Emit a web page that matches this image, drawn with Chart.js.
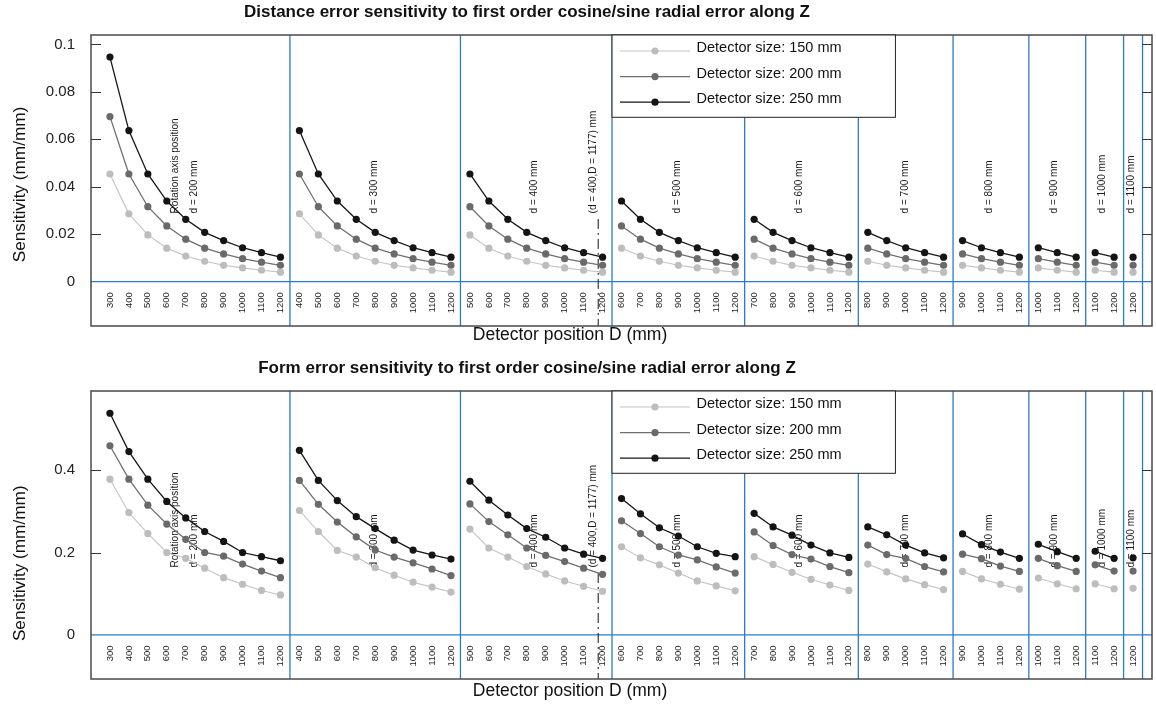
<!DOCTYPE html>
<html>
<head>
<meta charset="utf-8">
<title>Sensitivity to first order cosine/sine radial error along Z</title>
<script src="https://cdn.jsdelivr.net/npm/chart.js@4.4.1/dist/chart.umd.min.js"></script>
<style>
  body { margin: 0; background: #fff; }
  canvas { display: block; }
</style>
</head>
<body>
<canvas id="distChart" width="1156" height="352"></canvas>
<canvas id="formChart" width="1156" height="352"></canvas>
<script>
// rotation axis position d (mm) and detector position D (mm)
const rotationAxis = [200, 300, 400, 500, 600, 700, 800, 900, 1000, 1100];
const detectorPos = [300, 400, 500, 600, 700, 800, 900, 1000, 1100, 1200];
const detectorSizes = [150, 200, 250];
const limitD = 1177; // largest usable D for d = 400

// distance error sensitivity (mm/mm), only depends on D (300..1200)
const dist150 = [0.0454, 0.0286, 0.0197, 0.0141, 0.0108, 0.0086, 0.0069, 0.0058, 0.0048, 0.0040];
const dist200 = [0.0696, 0.0454, 0.0316, 0.0235, 0.0179, 0.0141, 0.0117, 0.0097, 0.0082, 0.0069];
const dist250 = [0.0947, 0.0637, 0.0454, 0.0340, 0.0263, 0.0208, 0.0173, 0.0143, 0.0122, 0.0103];

// form error sensitivity (mm/mm), one row per d, D > d
const form150 = [
  [0.378, 0.297, 0.246, 0.200, 0.186, 0.162, 0.139, 0.123, 0.108, 0.097],
  [0.302, 0.251, 0.205, 0.189, 0.163, 0.145, 0.128, 0.116, 0.104],
  [0.257, 0.211, 0.189, 0.166, 0.148, 0.131, 0.118, 0.106],
  [0.214, 0.187, 0.170, 0.150, 0.131, 0.119, 0.107],
  [0.190, 0.171, 0.152, 0.135, 0.121, 0.108],
  [0.172, 0.153, 0.136, 0.122, 0.110],
  [0.154, 0.136, 0.123, 0.111],
  [0.138, 0.124, 0.112],
  [0.124, 0.112],
  [0.113]
];
const form200 = [
  [0.459, 0.378, 0.315, 0.269, 0.232, 0.200, 0.191, 0.172, 0.155, 0.139],
  [0.375, 0.317, 0.274, 0.238, 0.206, 0.189, 0.175, 0.160, 0.144],
  [0.318, 0.275, 0.243, 0.211, 0.193, 0.178, 0.162, 0.147],
  [0.277, 0.246, 0.214, 0.194, 0.182, 0.165, 0.150],
  [0.250, 0.217, 0.195, 0.184, 0.166, 0.151],
  [0.218, 0.195, 0.186, 0.166, 0.153],
  [0.196, 0.185, 0.167, 0.154],
  [0.186, 0.168, 0.154],
  [0.170, 0.155],
  [0.155]
];
const form250 = [
  [0.538, 0.445, 0.378, 0.324, 0.284, 0.251, 0.227, 0.200, 0.190, 0.180],
  [0.448, 0.375, 0.326, 0.287, 0.258, 0.230, 0.206, 0.194, 0.184],
  [0.373, 0.327, 0.291, 0.258, 0.237, 0.211, 0.196, 0.186],
  [0.331, 0.294, 0.260, 0.240, 0.214, 0.198, 0.190],
  [0.295, 0.262, 0.242, 0.218, 0.199, 0.188],
  [0.262, 0.243, 0.218, 0.199, 0.187],
  [0.245, 0.219, 0.201, 0.186],
  [0.220, 0.202, 0.186],
  [0.203, 0.186],
  [0.187]
];

const yTicksDist = [0, 0.02, 0.04, 0.06, 0.08, 0.1];
const yTicksForm = [0, 0.2, 0.4];

const FONT = '"Liberation Sans", Arial, Helvetica, sans-serif';
const BLUE = '#2a7cc4';
const lineColors = ['#c4c4c4', '#6f6f6f', '#161616'];
const markColors = ['#bdbdbd', '#6a6a6a', '#141414'];

Chart.defaults.font.family = FONT;

// one group of detector positions per d
const groups = rotationAxis.map(d => detectorPos.filter(D => D > d));
const xLabels = groups.flat();
const groupStart = [];
let count = 0;
groups.forEach(g => { groupStart.push(count); count += g.length; });
const boundaries = groups.map((g, i) => groupStart[i] + g.length - 0.5);

// vertical labels inside the plot, x in category units
const notes = [
  { text: 'Rotation axis position', x: 3.44 },
  { text: 'd = 200 mm', x: 4.45 },
  { text: 'd = 300 mm', x: 13.94 },
  { text: 'd = 400 mm', x: 22.42 },
  { text: '(d = 400,D = ' + limitD + ') mm', x: 25.5 },
  { text: 'd = 500 mm', x: 29.94 },
  { text: 'd = 600 mm', x: 36.36 },
  { text: 'd = 700 mm', x: 41.98 },
  { text: 'd = 800 mm', x: 46.41 },
  { text: 'd = 900 mm', x: 49.84 },
  { text: 'd = 1000 mm', x: 52.4 },
  { text: 'd = 1100 mm', x: 53.9 }
];
const limitX = groupStart[2] + (limitD - groups[2][0]) / 100;

function seriesPoints(rows) {
  const pts = [];
  rows.forEach((vals, g) => {
    vals.forEach((v, k) => pts.push({ x: groupStart[g] + k, y: v }));
    pts.push({ x: groupStart[g] + vals.length - 0.5, y: null }); // break the line between groups
  });
  return pts;
}

function makeDatasets(rowsBySize) {
  return rowsBySize.map((rows, i) => ({
    label: 'Detector size: ' + detectorSizes[i] + ' mm',
    data: seriesPoints(rows),
    borderColor: lineColors[i],
    backgroundColor: markColors[i],
    pointBackgroundColor: markColors[i],
    pointBorderWidth: 0,
    pointRadius: 3.6,
    borderWidth: i === 0 ? 1.1 : 1.3,
    tension: 0
  }));
}

function drawLine(ctx, x1, y1, x2, y2) {
  ctx.beginPath();
  ctx.moveTo(x1, y1);
  ctx.lineTo(x2, y2);
  ctx.stroke();
}

const decor = {
  id: 'decor',
  beforeDatasetsDraw(chart) {
    const { ctx, chartArea: a, scales: { x, y } } = chart;
    const h = a.bottom - a.top;
    ctx.save();
    ctx.strokeStyle = BLUE;
    ctx.lineWidth = 1.3;
    boundaries.forEach(b => {
      const px = x.getPixelForValue(b);
      drawLine(ctx, px, a.top, px, a.bottom);
    });
    ctx.lineWidth = 1.2;
    const y0 = y.getPixelForValue(0);
    drawLine(ctx, a.left, y0, a.right, y0);

    ctx.fillStyle = '#1a1a1a';
    ctx.font = '10px ' + FONT;
    ctx.textAlign = 'left';
    ctx.textBaseline = 'middle';
    const ny = a.top + 0.613 * h;
    notes.forEach(n => {
      ctx.save();
      ctx.translate(x.getPixelForValue(n.x), ny);
      ctx.rotate(-Math.PI / 2);
      ctx.fillText(n.text, 0, 0);
      ctx.restore();
    });

    // dash-dot marker at D = 1177
    ctx.strokeStyle = '#111';
    ctx.lineWidth = 1;
    ctx.setLineDash([10, 4, 2, 4]);
    const lx = x.getPixelForValue(limitX);
    drawLine(ctx, lx, a.top + 0.632 * h, lx, a.bottom);
    ctx.restore();
  },
  afterDatasetsDraw(chart, args, opts) {
    const { ctx, chartArea: a, scales: { x, y } } = chart;
    ctx.save();
    // inward y ticks on both sides
    ctx.strokeStyle = '#333';
    ctx.lineWidth = 1;
    opts.yTicks.forEach(v => {
      if (v === 0) return;
      const py = Math.round(y.getPixelForValue(v)) + 0.5;
      drawLine(ctx, a.left, py, a.left + 10, py);
      drawLine(ctx, a.right - 10, py, a.right, py);
    });
    ctx.strokeStyle = '#4a4a4a';
    ctx.lineWidth = 1.5;
    ctx.strokeRect(a.left, a.top, a.right - a.left, a.bottom - a.top);

    // legend box
    const left = x.getPixelForValue(boundaries[2]);
    const w = 283.4, lh = 82.3;
    ctx.fillStyle = '#fff';
    ctx.fillRect(left, a.top, w, lh);
    ctx.strokeStyle = '#222';
    ctx.lineWidth = 1;
    ctx.strokeRect(left, a.top, w, lh);
    chart.data.datasets.forEach((ds, i) => {
      const ly = a.top + 16 + i * 25.6;
      ctx.strokeStyle = ds.borderColor;
      ctx.lineWidth = ds.borderWidth;
      drawLine(ctx, left + 8, ly, left + 78, ly);
      ctx.fillStyle = ds.pointBackgroundColor;
      ctx.beginPath();
      ctx.arc(left + 43, ly, 3.6, 0, Math.PI * 2);
      ctx.fill();
      ctx.fillStyle = '#111';
      ctx.font = '14.5px ' + FONT;
      ctx.textAlign = 'left';
      ctx.textBaseline = 'alphabetic';
      ctx.fillText(ds.label, left + 84.5, ly + 1);
    });
    ctx.restore();
  },
  afterDraw(chart, args, opts) {
    const { ctx } = chart;
    ctx.save();
    ctx.fillStyle = '#111';
    ctx.textAlign = 'center';
    ctx.textBaseline = 'alphabetic';
    ctx.font = 'bold 17px ' + FONT;
    ctx.fillText(opts.title, 527, opts.titleY);
    ctx.font = '17.5px ' + FONT;
    ctx.fillText('Detector position D (mm)', 570, opts.xTitleY);
    ctx.translate(25, opts.yTitleY);
    ctx.rotate(-Math.PI / 2);
    ctx.font = '17.2px ' + FONT;
    ctx.fillText('Sensitivity (mm/mm)', 0, 0);
    ctx.restore();
  }
};

function crearGrafica(id, datasets, yMin, yMax, yTicks, pad, decorOpts) {
  const ctx = document.getElementById(id).getContext('2d');
  return new Chart(ctx, {
    type: 'line',
    data: { datasets: datasets },
    plugins: [decor],
    options: {
      responsive: false,
      animation: false,
      events: [],
      layout: { padding: pad },
      plugins: {
        legend: { display: false },
        tooltip: { enabled: false },
        decor: Object.assign({ yTicks: yTicks }, decorOpts)
      },
      scales: {
        x: {
          type: 'linear',
          min: -1,
          max: 55,
          position: { y: 0 },
          grid: { display: false, drawTicks: false },
          border: { display: false },
          afterBuildTicks: s => { s.ticks = xLabels.map((_, i) => ({ value: i })); },
          ticks: {
            autoSkip: false,
            minRotation: 90,
            maxRotation: 90,
            padding: 10.5,
            color: '#222',
            font: { size: 9.5 },
            callback: v => xLabels[v]
          }
        },
        y: {
          min: yMin,
          max: yMax,
          afterFit: s => { s.width = 91; },
          afterBuildTicks: s => { s.ticks = yTicks.map(v => ({ value: v })); },
          grid: { display: false, drawTicks: false },
          border: { display: false },
          ticks: {
            padding: 16,
            color: '#222',
            font: { size: 15 },
            callback: v => String(v)
          }
        }
      }
    }
  });
}

crearGrafica('distChart',
  makeDatasets([dist150, dist200, dist250].map(arr => groups.map(g => arr.slice(detectorPos.indexOf(g[0]))))),
  -0.0187, 0.104, yTicksDist,
  { left: 0, right: 4, top: 35, bottom: 26 },
  { title: 'Distance error sensitivity to first order cosine/sine radial error along Z', titleY: 17.3, xTitleY: 340, yTitleY: 184.5 });

crearGrafica('formChart',
  makeDatasets([form150, form200, form250]),
  -0.107, 0.592, yTicksForm,
  { left: 0, right: 4, top: 39, bottom: 22 },
  { title: 'Form error sensitivity to first order cosine/sine radial error along Z', titleY: 20.7, xTitleY: 344, yTitleY: 211.3 });
</script>
</body>
</html>
